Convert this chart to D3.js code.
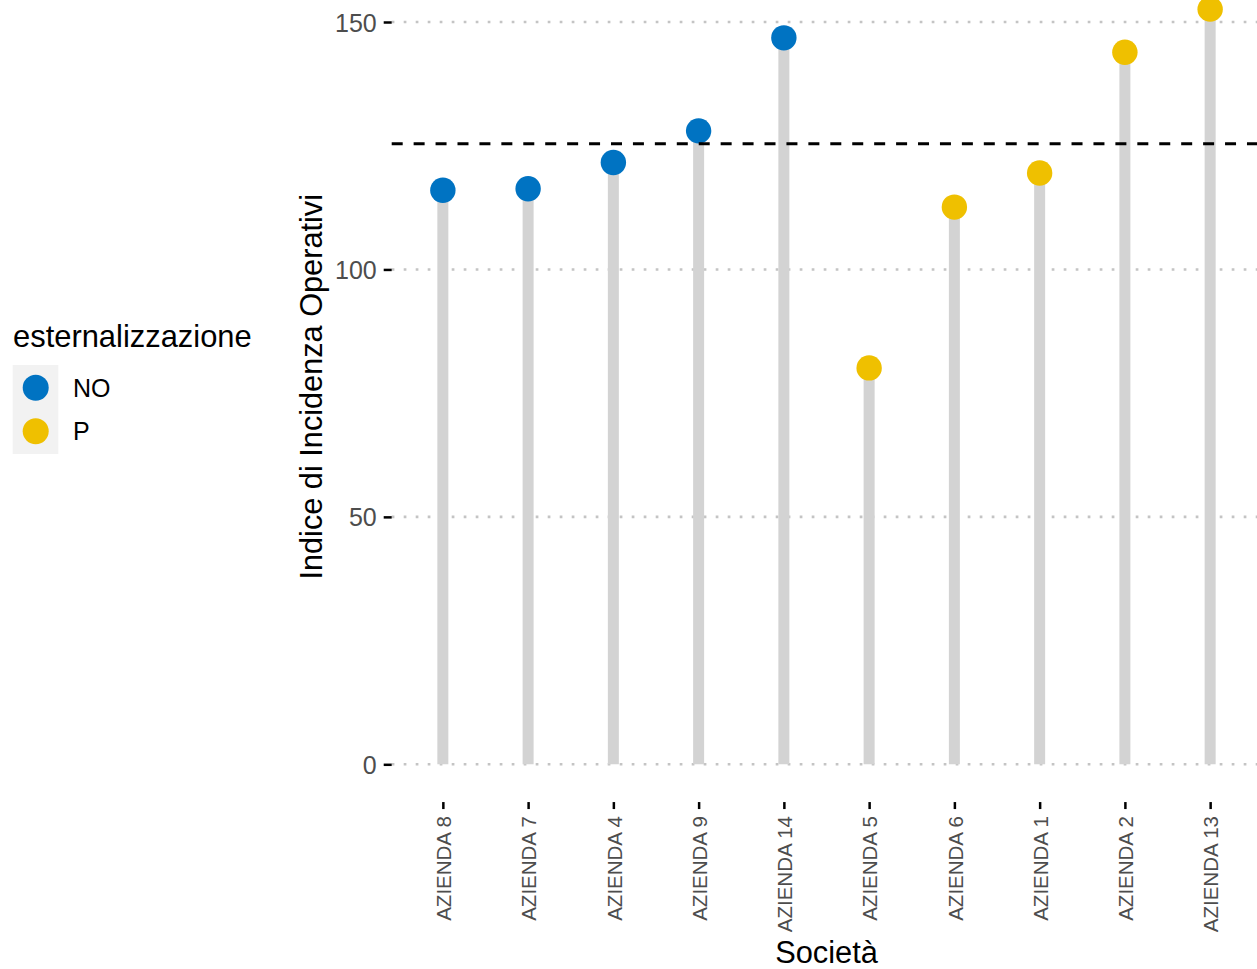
<!DOCTYPE html>
<html>
<head>
<meta charset="utf-8">
<script src="https://cdn.jsdelivr.net/npm/d3@7/dist/d3.min.js"></script>
<style>
  html, body { margin: 0; padding: 0; background: #ffffff; }
  svg text { font-family: "Liberation Sans", Arial, Helvetica, sans-serif; }
</style>
</head>
<body>
<svg id="chart" width="1257" height="969"></svg>
<script>
// ---- data ----
const categories = ["AZIENDA 8", "AZIENDA 7", "AZIENDA 4", "AZIENDA 9", "AZIENDA 14",
                    "AZIENDA 5", "AZIENDA 6", "AZIENDA 1", "AZIENDA 2", "AZIENDA 13"];
const values = [116.0, 116.3, 121.6, 128.0, 146.8, 80.1, 112.6, 119.5, 143.9, 152.6];
const groups = ["NO", "NO", "NO", "NO", "NO", "P", "P", "P", "P", "P"];
const groupLevels = ["NO", "P"];
const groupColors = ["#0073C2", "#EFC000"];
const refValue = 125.4;
const yTickValues = [0, 50, 100, 150];
const xTitle = "Società";
const yTitle = "Indice di Incidenza Operativi";
const legendTitle = "esternalizzazione";

// ---- layout ----
const svg = d3.select("#chart");
const panelLeft = 391.7, panelRight = 1261.3;
const x = d3.scalePoint().domain(categories).range([panelLeft, panelRight]).padding(0.6);
const y = d3.scaleLinear().domain([0, 150]).range([764.3, 22]);
const yMin = -0.05 * (d3.max(values) - 0);
const panelBottom = y(yMin);
const color = d3.scaleOrdinal().domain(groupLevels).range(groupColors);

const data = categories.map((c, i) => ({ cat: c, val: values[i], grp: groups[i] }));

// grid lines (dotted)
svg.append("g").selectAll("line").data(yTickValues).join("line")
  .attr("x1", panelLeft).attr("x2", 1257)
  .attr("y1", d => y(d)).attr("y2", d => y(d))
  .attr("stroke", "#c4c4c4").attr("stroke-width", 2.6)
  .attr("stroke-dasharray", "2.7 9.3");

// segments
svg.append("g").selectAll("line").data(data).join("line")
  .attr("x1", d => x(d.cat)).attr("x2", d => x(d.cat))
  .attr("y1", y(0)).attr("y2", d => y(d.val))
  .attr("stroke", "#d3d3d3").attr("stroke-width", 11);

// points
svg.append("g").selectAll("circle").data(data).join("circle")
  .attr("cx", d => x(d.cat)).attr("cy", d => y(d.val))
  .attr("r", 12.7).attr("fill", d => color(d.grp));

// reference dashed line
svg.append("line")
  .attr("x1", panelLeft).attr("x2", 1257)
  .attr("y1", y(refValue)).attr("y2", y(refValue))
  .attr("stroke", "#000").attr("stroke-width", 3)
  .attr("stroke-dasharray", "11 10.93");

// y axis
const yAxis = d3.axisLeft(y).tickValues(yTickValues).tickSize(8).tickPadding(7).tickFormat(d3.format("d"));
const gy = svg.append("g").attr("transform", `translate(${panelLeft},0)`).call(yAxis);
gy.select(".domain").remove();
gy.selectAll(".tick line").attr("stroke", "#000").attr("stroke-width", 2.5);
gy.selectAll(".tick text").attr("fill", "#4d4d4d").attr("font-size", 25)
  .attr("font-family", "Liberation Sans, Arial, sans-serif").attr("dy", "0.36em");

// x axis
const xAxis = d3.axisBottom(x).tickSize(7).tickPadding(0);
const gx = svg.append("g").attr("transform", `translate(0,${panelBottom})`).call(xAxis);
gx.select(".domain").remove();
gx.selectAll(".tick line").attr("stroke", "#000").attr("stroke-width", 2.5);
gx.selectAll(".tick text")
  .attr("fill", "#4d4d4d").attr("font-size", 20.5)
  .attr("font-family", "Liberation Sans, Arial, sans-serif")
  .attr("text-anchor", "end")
  .attr("transform", "rotate(-90)")
  .attr("x", -(816 - panelBottom)).attr("y", 0).attr("dy", "0.38em");

// axis titles
svg.append("text").attr("x", (panelLeft + panelRight) / 2).attr("y", 962.7)
  .attr("text-anchor", "middle").attr("font-size", 30.8).attr("fill", "#000").text(xTitle);
svg.append("text").attr("transform", `translate(322,${(y(160.2) + panelBottom) / 2}) rotate(-90)`)
  .attr("text-anchor", "middle").attr("font-size", 30.7).attr("fill", "#000").text(yTitle);

// legend
const lg = svg.append("g");
lg.append("text").attr("x", 13).attr("y", 346.5).attr("font-size", 30.9).attr("fill", "#000").text(legendTitle);
lg.append("rect").attr("x", 12.7).attr("y", 365).attr("width", 45.6).attr("height", 89).attr("fill", "#f2f2f2");
const items = lg.selectAll("g.item").data(groupLevels).join("g").attr("class", "item")
  .attr("transform", (d, i) => `translate(0,${387.7 + i * 43.6})`);
items.append("circle").attr("cx", 35.7).attr("cy", 0).attr("r", 13).attr("fill", d => color(d));
items.append("text").attr("x", 73).attr("y", 0).attr("dy", "0.36em").attr("font-size", 25).attr("fill", "#000").text(d => d);
</script>
</body>
</html>
